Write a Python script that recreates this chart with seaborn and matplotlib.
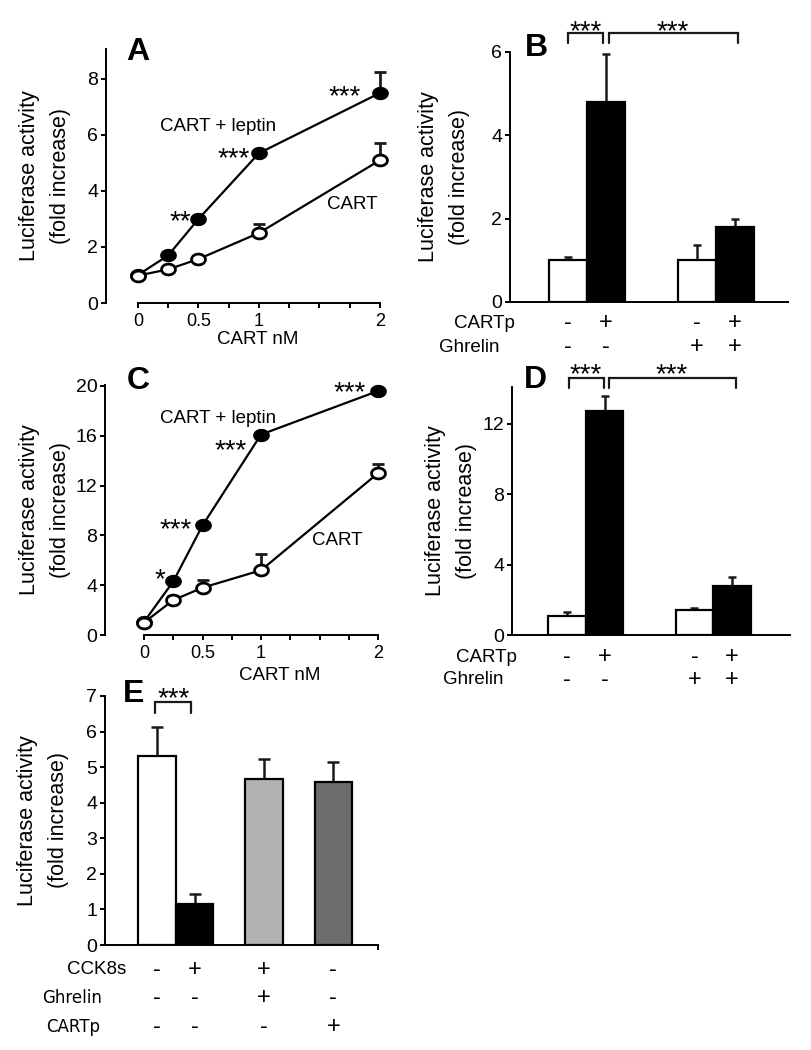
import numpy as np
import pandas as pd
import matplotlib
matplotlib.use("Agg")
import matplotlib.pyplot as plt
import seaborn as sns
from matplotlib.path import Path
import matplotlib.transforms as mtransforms

# ---------------- data ----------------
DOSE = [0, 0.25, 0.5, 1, 2]
DOSE_TICKS = [0, 0.5, 1, 2]
DOSE_TICK_LABELS = ["0", "0.5", "1", "2"]
DOSE_MINOR = [0.25, 0.75, 1.25, 1.5, 1.75]

A_LEPTIN = [1.0, 1.7, 3.0, 5.35, 7.5]
A_LEPTIN_ERR = [0, 0, 0, 0, 0.75]
A_CART = [0.98, 1.2, 1.57, 2.5, 5.1]
A_CART_ERR = [0, 0, 0.1, 0.33, 0.6]
A_YTICKS = [0, 2, 4, 6, 8]

C_LEPTIN = [1.05, 4.3, 8.8, 16.1, 19.6]
C_LEPTIN_ERR = [0, 0, 0, 0, 0]
C_CART = [1.0, 2.8, 3.8, 5.2, 13.0]
C_CART_ERR = [0, 0.35, 0.6, 1.3, 0.7]
C_YTICKS = [0, 4, 8, 12, 16, 20]

BD_CONDITIONS = ["control", "CARTp", "Ghrelin", "CARTp + Ghrelin"]
BD_CARTP_SIGNS = ["-", "+", "-", "+"]
BD_GHRELIN_SIGNS = ["-", "-", "+", "+"]
B_VALUES = [1.0, 4.8, 1.0, 1.8]
B_ERR = [0.08, 1.15, 0.36, 0.2]
B_YTICKS = [0, 2, 4, 6]
D_VALUES = [1.1, 12.75, 1.42, 2.8]
D_ERR = [0.2, 0.85, 0.13, 0.48]
D_YTICKS = [0, 4, 8, 12]

E_CONDITIONS = ["control", "CCK8s", "CCK8s + Ghrelin", "CARTp"]
E_VALUES = [5.32, 1.15, 4.67, 4.59]
E_ERR = [0.8, 0.27, 0.56, 0.55]
E_CCK_SIGNS = ["-", "+", "+", "-"]
E_GHRELIN_SIGNS = ["-", "-", "+", "-"]
E_CARTP_SIGNS = ["-", "-", "-", "+"]
E_YTICKS = [0, 1, 2, 3, 4, 5, 6, 7]

YLABEL = "Luciferase activity\n(fold increase)"
XLABEL = "CART nM"

# ---------------- layout / style ----------------
BD_POS = [0, 1, 3.4, 4.4]
E_POS = [0, 1, 2.85, 4.7]
BD_COLORS = ["white", "black", "white", "black"]
E_COLORS = ["white", "black", "#b2b2b2", "#6c6c6c"]

sns.set_theme(style="ticks")
plt.rcParams["font.family"] = ["Liberation Sans", "DejaVu Sans"]
plt.rcParams["axes.linewidth"] = 1.4
plt.rcParams["xtick.major.width"] = 1.4
plt.rcParams["ytick.major.width"] = 1.4
plt.rcParams["xtick.minor.width"] = 1.4
plt.rcParams["xtick.major.size"] = 3.5
plt.rcParams["ytick.major.size"] = 3.5
plt.rcParams["xtick.minor.size"] = 3.5
plt.rcParams["text.color"] = "black"
plt.rcParams["axes.labelcolor"] = "black"
plt.rcParams["xtick.color"] = "black"
plt.rcParams["ytick.color"] = "black"
plt.rcParams["axes.edgecolor"] = "black"

W, H = 811, 1050
fig = plt.figure(figsize=(W / 100, H / 100), dpi=100)
fig.patch.set_facecolor("white")


def add_ax(l, t, r, b):
    ax = fig.add_axes([l / W, 1 - b / H, (r - l) / W, (b - t) / H])
    ax._px = (l, t, r, b)
    return ax


def ftext(x, y, s, **kw):
    fig.text(x / W, 1 - y / H, s, **kw)


t = np.linspace(0, 2 * np.pi, 64)
ELLIPSE = Path(np.c_[np.cos(t), 0.78 * np.sin(t)], closed=True)

YT = 14
XT = 13
LAB = 15.5
STAR = 20
SIGN = 17


def style_y(ax, ylim, yticks, label_right):
    ax.set_ylim(*ylim)
    ax.set_yticks(yticks)
    ax.set_yticklabels([str(v) for v in yticks], fontsize=YT)
    ax.tick_params(axis="y", pad=2)
    ax.set_ylabel(YLABEL, fontsize=LAB, linespacing=1.6)
    l, tp, r, b = ax._px
    ax.yaxis.set_label_coords((label_right - l) / (r - l), 0.5)
    sns.despine(ax=ax)
    ax.spines["left"].set_bounds(0, ylim[1])


def line_panel(ax, leptin, leptin_err, cart, cart_err, xlim, ylim, yticks, label_right):
    df = pd.DataFrame({"dose": DOSE, "leptin": leptin, "cart": cart})
    ax.errorbar(DOSE, cart, yerr=[np.zeros(5), cart_err], fmt="none", ecolor="k",
                elinewidth=2.0, capsize=4.5, capthick=2.0, zorder=1.5, clip_on=False)
    ax.errorbar(DOSE, leptin, yerr=[np.zeros(5), leptin_err], fmt="none", ecolor="k",
                elinewidth=2.0, capsize=4.5, capthick=2.0, zorder=1.5, clip_on=False)
    sns.lineplot(data=df, x="dose", y="leptin", color="black", lw=1.6, marker=ELLIPSE,
                 markersize=11, markerfacecolor="black", markeredgecolor="black",
                 markeredgewidth=1, errorbar=None, ax=ax, clip_on=False, zorder=3)
    sns.lineplot(data=df, x="dose", y="cart", color="black", lw=1.6, marker=ELLIPSE,
                 markersize=10, markerfacecolor="white", markeredgecolor="black",
                 markeredgewidth=2.0, errorbar=None, ax=ax, clip_on=False, zorder=4)
    ax.set_xlim(*xlim)
    ax.set_xticks(DOSE_TICKS)
    ax.set_xticklabels(DOSE_TICK_LABELS, fontsize=XT)
    ax.set_xticks(DOSE_MINOR, minor=True)
    ax.tick_params(axis="x", which="both", direction="out", pad=4)
    ax.set_xlabel("")
    style_y(ax, ylim, yticks, label_right)
    ax.spines["bottom"].set_bounds(0, 2)


def bar_panel(ax, pos, values, errs, colors, labels, xlim, ylim, yticks, label_right, capsize=3):
    df = pd.DataFrame({"pos": pos, "value": values, "cond": labels})
    sns.barplot(data=df, x="pos", y="value", hue="cond", hue_order=labels,
                palette=colors, native_scale=True, dodge=False, width=1,
                edgecolor="black", linewidth=1.6, legend=False, errorbar=None, ax=ax)
    ax.errorbar(pos, values, yerr=[np.zeros(len(values)), errs], fmt="none", ecolor="k",
                elinewidth=1.8, capsize=capsize, capthick=1.8, zorder=0.5, clip_on=False)
    ax.set_xlim(*xlim)
    ax.set_xticks([])
    ax.set_xlabel("")
    style_y(ax, ylim, yticks, label_right)


def bracket(ax, x0, x1, yb, yt, lw=1.6):
    ax.plot([x0, x0, x1, x1], [yb, yt, yt, yb], color="k", lw=lw, clip_on=False,
            solid_joinstyle="miter")


def sign_row(ax, pos, signs, yfrac, label, label_x, fontsize=14, family=None):
    trans = mtransforms.blended_transform_factory(ax.transData, ax.transAxes)
    for p, s in zip(pos, signs):
        ax.text(p, yfrac, s, transform=trans, ha="center", va="center", fontsize=SIGN)
    kw = {}
    if family:
        kw["family"] = family
    ax.text(label_x, yfrac, label, transform=ax.transAxes, ha="right", va="center",
            fontsize=fontsize, **kw)


# ---------------- Panel A ----------------
axA = add_ax(106, 49, 383, 303)
line_panel(axA, A_LEPTIN, A_LEPTIN_ERR, A_CART, A_CART_ERR, (-0.264, 2.025), (0, 9.07),
           A_YTICKS, 71)
axA.text(0.66, 6.29, "CART + leptin", ha="center", va="center", fontsize=13.5)
axA.text(1.77, 3.5, "CART", ha="center", va="center", fontsize=13.5)
axA.text(1.71, 7.35, "***", ha="center", va="center", fontsize=STAR)
axA.text(0.79, 5.15, "***", ha="center", va="center", fontsize=STAR)
axA.text(0.35, 2.9, "**", ha="center", va="center", fontsize=STAR)
ftext(258, 340, XLABEL, ha="center", va="center", fontsize=13.5)
ftext(138, 52, "A", ha="center", va="center", fontsize=23, fontweight="bold")

# ---------------- Panel C ----------------
axC = add_ax(105, 385, 381, 635)
line_panel(axC, C_LEPTIN, C_LEPTIN_ERR, C_CART, C_CART_ERR, (-0.333, 2.025), (0, 20.08),
           C_YTICKS, 71)
axC.text(0.63, 17.4, "CART + leptin", ha="center", va="center", fontsize=13.5)
axC.text(1.65, 7.6, "CART", ha="center", va="center", fontsize=13.5)
axC.text(1.76, 19.4, "***", ha="center", va="center", fontsize=STAR)
axC.text(0.74, 14.8, "***", ha="center", va="center", fontsize=STAR)
axC.text(0.27, 8.4, "***", ha="center", va="center", fontsize=STAR)
axC.text(0.14, 4.4, "*", ha="center", va="center", fontsize=STAR)
ftext(280, 676, XLABEL, ha="center", va="center", fontsize=13.5)
ftext(138, 381, "C", ha="center", va="center", fontsize=23, fontweight="bold")

# ---------------- Panel B ----------------
axB = add_ax(510, 52, 788, 302)
bar_panel(axB, BD_POS, B_VALUES, B_ERR, BD_COLORS, BD_CONDITIONS, (-1.53, 5.79), (0, 6),
          B_YTICKS, 470)
bracket(axB, 0.0, 0.92, 6.22, 6.46)
bracket(axB, 1.08, 4.47, 6.22, 6.46)
axB.text(0.47, 6.47, "***", ha="center", va="center", fontsize=STAR, clip_on=False)
axB.text(2.75, 6.47, "***", ha="center", va="center", fontsize=STAR, clip_on=False)
sign_row(axB, BD_POS, BD_CARTP_SIGNS, -0.084, "CARTp", 0.018, fontsize=13.5)
sign_row(axB, BD_POS, BD_GHRELIN_SIGNS, -0.18, "Ghrelin", -0.036, fontsize=13.5)
ftext(536, 48, "B", ha="center", va="center", fontsize=23, fontweight="bold")

# ---------------- Panel D ----------------
axD = add_ax(512, 387, 790, 635)
bar_panel(axD, BD_POS, D_VALUES, D_ERR, BD_COLORS, BD_CONDITIONS, (-1.47, 5.95), (0, 14.1),
          D_YTICKS, 477)
bracket(axD, 0.05, 0.99, 14.05, 14.6)
bracket(axD, 1.12, 4.5, 14.05, 14.6)
axD.text(0.5, 14.75, "***", ha="center", va="center", fontsize=STAR, clip_on=False)
axD.text(2.8, 14.75, "***", ha="center", va="center", fontsize=STAR, clip_on=False)
sign_row(axD, BD_POS, BD_CARTP_SIGNS, -0.089, "CARTp", 0.018, fontsize=13.5)
sign_row(axD, BD_POS, BD_GHRELIN_SIGNS, -0.18, "Ghrelin", -0.032, fontsize=13.5)
ftext(535, 380, "D", ha="center", va="center", fontsize=23, fontweight="bold")

# ---------------- Panel E ----------------
axE = add_ax(105, 696, 378, 945)
bar_panel(axE, E_POS, E_VALUES, E_ERR, E_COLORS, E_CONDITIONS, (-1.39, 5.89), (0, 7),
          E_YTICKS, 69, capsize=4)
axE.set_xticks([5.89])
axE.set_xticklabels([""])
bracket(axE, -0.05, 0.9, 6.52, 6.83)
axE.text(0.43, 6.9, "***", ha="center", va="center", fontsize=STAR, clip_on=False)
sign_row(axE, E_POS, E_CCK_SIGNS, -0.10, "CCK8s", 0.077, fontsize=13.5)
sign_row(axE, E_POS, E_GHRELIN_SIGNS, -0.213, "Ghrelin", -0.011, fontsize=12, family="DejaVu Sans")
sign_row(axE, E_POS, E_CARTP_SIGNS, -0.33, "CARTp", -0.018, fontsize=12, family="DejaVu Sans")
ftext(134, 694, "E", ha="center", va="center", fontsize=23, fontweight="bold")

fig.savefig("out.png", dpi=100, facecolor="white")
